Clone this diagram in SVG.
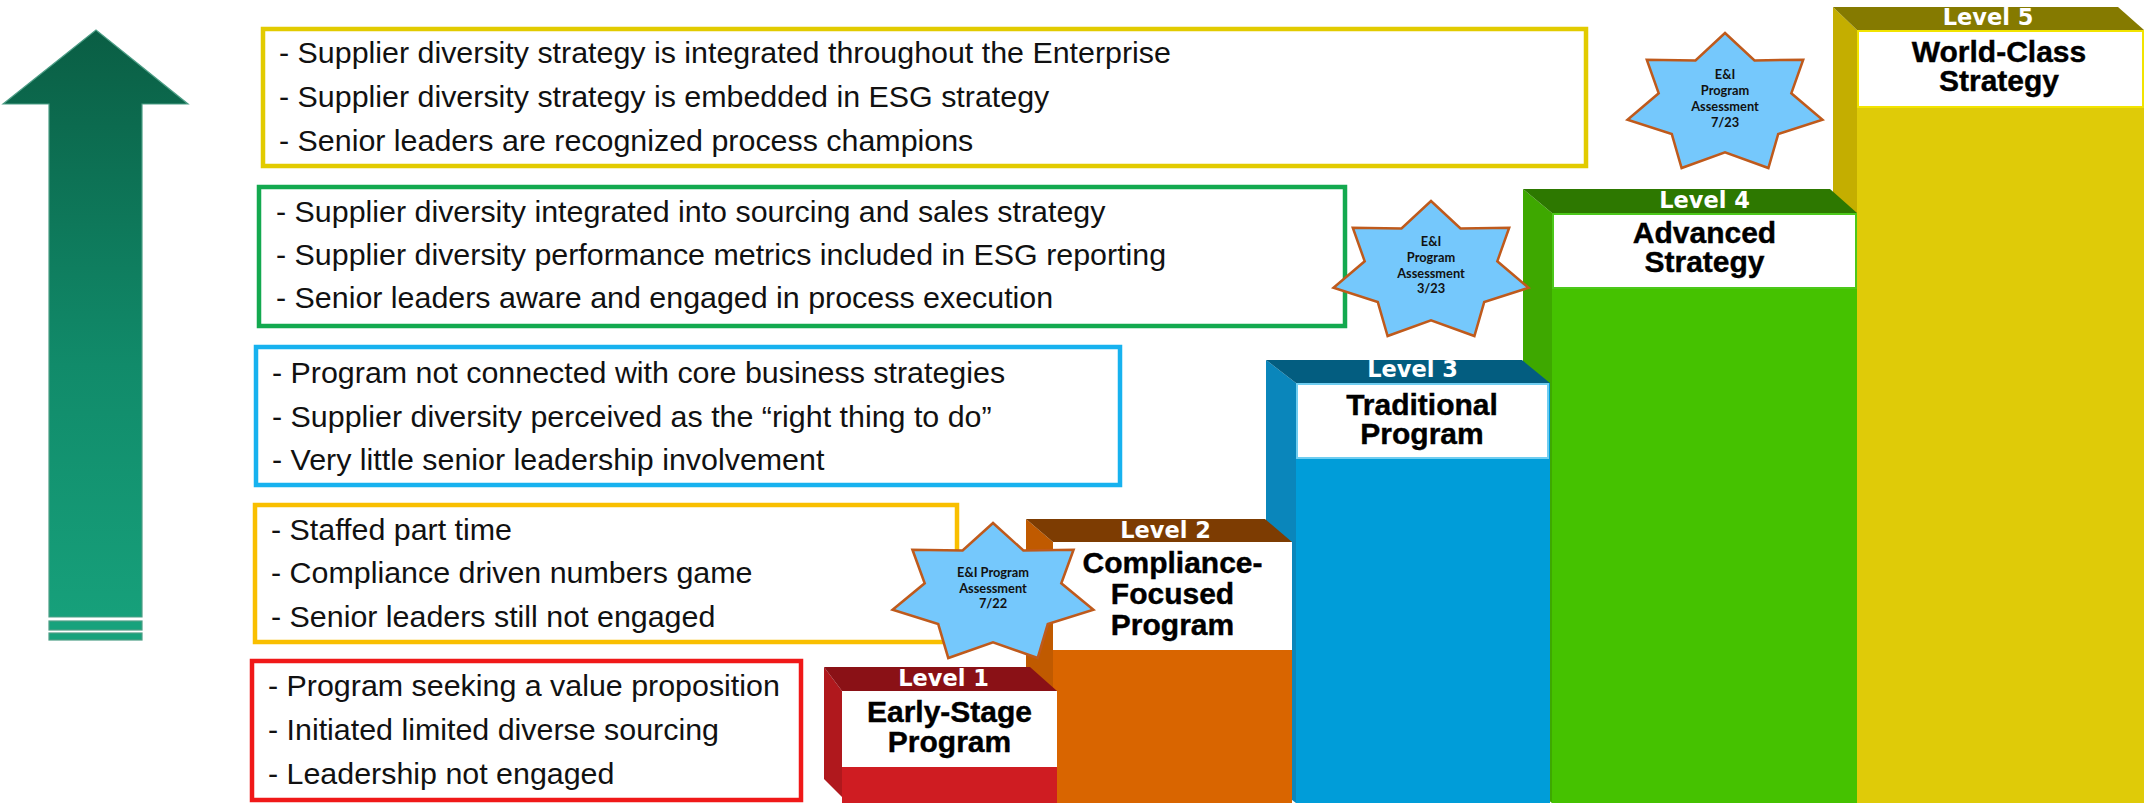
<svg xmlns="http://www.w3.org/2000/svg" xmlns:xlink="http://www.w3.org/1999/xlink" width="2144" height="805" viewBox="0 0 2144 805">
  <style>
    .bt { font-family: "Liberation Sans", Arial, sans-serif; font-size: 30.4px; fill: #111; }
    .box { fill: #fff; stroke-width: 4.5; }
    .lvl { font-family: "DejaVu Sans", Verdana, sans-serif; font-weight: bold; font-size: 22.5px; fill: #fff; text-anchor: middle; }
    .ttl { font-family: "Liberation Sans", Arial, sans-serif; font-weight: bold; font-size: 30px; fill: #000; text-anchor: middle; stroke: #000; stroke-width: 0.4; }
    .st { font-family: Lato, "Open Sans", sans-serif; font-weight: bold; font-size: 12.8px; fill: #111; text-anchor: middle; }
    .star { fill: #75c8fc; stroke: #bf5a1c; stroke-width: 2.5; stroke-linejoin: miter; }
  </style>
  <defs>
    <linearGradient id="arrowGrad" x1="0" y1="30" x2="0" y2="640" gradientUnits="userSpaceOnUse">
      <stop offset="0" stop-color="#0a5e44"/>
      <stop offset="0.55" stop-color="#118b6a"/>
      <stop offset="1" stop-color="#17a27c"/>
    </linearGradient>
    <polygon id="star" points="0,-71 29.5,-43.5 78.2,-44.3 66.3,-10.7 97.5,15.8 53.2,30.1 43.4,64 0,48.3 -43.4,64 -53.2,30.1 -97.5,15.8 -66.3,-10.7 -78.2,-44.3 -29.5,-43.5"/>
  </defs>

  <rect width="2144" height="805" fill="#fff"/>

  <g id="progress-arrow">
    <polygon points="3,104 96,30 188,104 142,104 142,617 49,617 49,104" fill="url(#arrowGrad)" stroke="#4d9e86" stroke-width="1.2"/>
    <rect x="49" y="621" width="93" height="9" fill="#17a27c" stroke="#4d9e86" stroke-width="1.2"/>
    <rect x="49" y="633" width="93" height="7" fill="#17a27c" stroke="#4d9e86" stroke-width="1.2"/>
  </g>

  <g id="box-level5">
    <rect class="box" x="263" y="29" width="1323" height="137" stroke="#e2cb00"/>
    <text class="bt" x="279" y="63">- Supplier diversity strategy is integrated throughout the Enterprise</text>
    <text class="bt" x="279" y="107">- Supplier diversity strategy is embedded in ESG strategy</text>
    <text class="bt" x="279" y="151">- Senior leaders are recognized process champions</text>
  </g>
  <g id="box-level4">
    <rect class="box" x="259" y="187" width="1086" height="139" stroke="#13a94f"/>
    <text class="bt" x="276" y="222">- Supplier diversity integrated into sourcing and sales strategy</text>
    <text class="bt" x="276" y="265">- Supplier diversity performance metrics included in ESG reporting</text>
    <text class="bt" x="276" y="308">- Senior leaders aware and engaged in process execution</text>
  </g>
  <g id="box-level3">
    <rect class="box" x="256" y="347" width="864" height="138" stroke="#17b2ef"/>
    <text class="bt" x="272" y="383">- Program not connected with core business strategies</text>
    <text class="bt" x="272" y="427">- Supplier diversity perceived as the “right thing to do”</text>
    <text class="bt" x="272" y="470">- Very little senior leadership involvement</text>
  </g>
  <g id="box-level2">
    <rect class="box" x="255" y="505" width="702" height="137" stroke="#f9bf00"/>
    <text class="bt" x="271" y="540">- Staffed part time</text>
    <text class="bt" x="271" y="583">- Compliance driven numbers game</text>
    <text class="bt" x="271" y="627">- Senior leaders still not engaged</text>
  </g>
  <g id="box-level1">
    <rect class="box" x="252" y="661" width="549" height="139" stroke="#f01818"/>
    <text class="bt" x="268" y="696">- Program seeking a value proposition</text>
    <text class="bt" x="268" y="740">- Initiated limited diverse sourcing</text>
    <text class="bt" x="268" y="784">- Leadership not engaged</text>
  </g>

  <g id="level5">
    <polygon points="1833,7 1857,30 1857,803 1833,780" fill="#c4ae00"/>
    <polygon points="1833,7 2118,7 2144,30 1857,30" fill="#857a00"/>
    <rect x="1857" y="30" width="287" height="773" fill="#dfcb08"/>
    <rect x="1858" y="31" width="285" height="76" fill="#fff" stroke="#f2e400" stroke-width="2"/>
    <text class="lvl" x="1988" y="25">Level 5</text>
    <text class="ttl" x="1999" y="62">World-Class</text>
    <text class="ttl" x="1999" y="91">Strategy</text>
  </g>
  <g id="level4">
    <polygon points="1523,189 1552,213 1552,803 1523,780" fill="#3ea800"/>
    <polygon points="1523,189 1830,189 1857,213 1552,213" fill="#2d7800"/>
    <rect x="1552" y="213" width="305" height="590" fill="#45c200"/>
    <rect x="1553" y="214" width="303" height="74" fill="#fff" stroke="#4cc81a" stroke-width="2"/>
    <text class="lvl" x="1704.5" y="208">Level 4</text>
    <text class="ttl" x="1704.5" y="243">Advanced</text>
    <text class="ttl" x="1704.5" y="272">Strategy</text>
  </g>
  <g id="level3">
    <polygon points="1266,360 1296,383 1296,803 1266,780" fill="#0a86bb"/>
    <polygon points="1266,360 1522,360 1550,383 1296,383" fill="#035d80"/>
    <rect x="1296" y="383" width="254" height="420" fill="#009dd9"/>
    <rect x="1297" y="384" width="251" height="74" fill="#fff" stroke="#6fcdf0" stroke-width="2"/>
    <text class="lvl" x="1412.5" y="377">Level 3</text>
    <text class="ttl" x="1422" y="415">Traditional</text>
    <text class="ttl" x="1422" y="444">Program</text>
  </g>
  <g id="level2">
    <polygon points="1026,519 1053,542 1053,803 1026,780" fill="#c05a00"/>
    <polygon points="1026,519 1265,519 1292,542 1053,542" fill="#7d3c02"/>
    <rect x="1053" y="542" width="239" height="261" fill="#d96500"/>
    <rect x="1053" y="542" width="239" height="108" fill="#fff"/>
    <text class="lvl" x="1165.5" y="538">Level 2</text>
    <text class="ttl" x="1172.5" y="573">Compliance-</text>
    <text class="ttl" x="1172.5" y="604">Focused</text>
    <text class="ttl" x="1172.5" y="635">Program</text>
  </g>
  <g id="level1">
    <polygon points="824,667 842,691 848,803 824,779" fill="#b0181d"/>
    <polygon points="824,667 1030,667 1057,691 842,691" fill="#8a1116"/>
    <rect x="842" y="691" width="215" height="112" fill="#cf1c22"/>
    <rect x="842" y="691" width="215" height="76" fill="#fff"/>
    <text class="lvl" x="943.5" y="686">Level 1</text>
    <text class="ttl" x="949.5" y="722">Early-Stage</text>
    <text class="ttl" x="949.5" y="752">Program</text>
  </g>

  <g id="assessment-7-22">
    <use xlink:href="#star" class="star" transform="translate(993,594) scale(1.03,1)"/>
    <text class="st" x="993" y="577">E&amp;I Program</text>
    <text class="st" x="993" y="593">Assessment</text>
    <text class="st" x="993" y="608">7/22</text>
  </g>
  <g id="assessment-3-23">
    <use xlink:href="#star" class="star" transform="translate(1431,272)"/>
    <text class="st" x="1431" y="246">E&amp;I</text>
    <text class="st" x="1431" y="262">Program</text>
    <text class="st" x="1431" y="278">Assessment</text>
    <text class="st" x="1431" y="293">3/23</text>
  </g>
  <g id="assessment-7-23">
    <use xlink:href="#star" class="star" transform="translate(1725,104)"/>
    <text class="st" x="1725" y="79">E&amp;I</text>
    <text class="st" x="1725" y="95">Program</text>
    <text class="st" x="1725" y="111">Assessment</text>
    <text class="st" x="1725" y="127">7/23</text>
  </g>

  <g id="connectors"/>
</svg>
